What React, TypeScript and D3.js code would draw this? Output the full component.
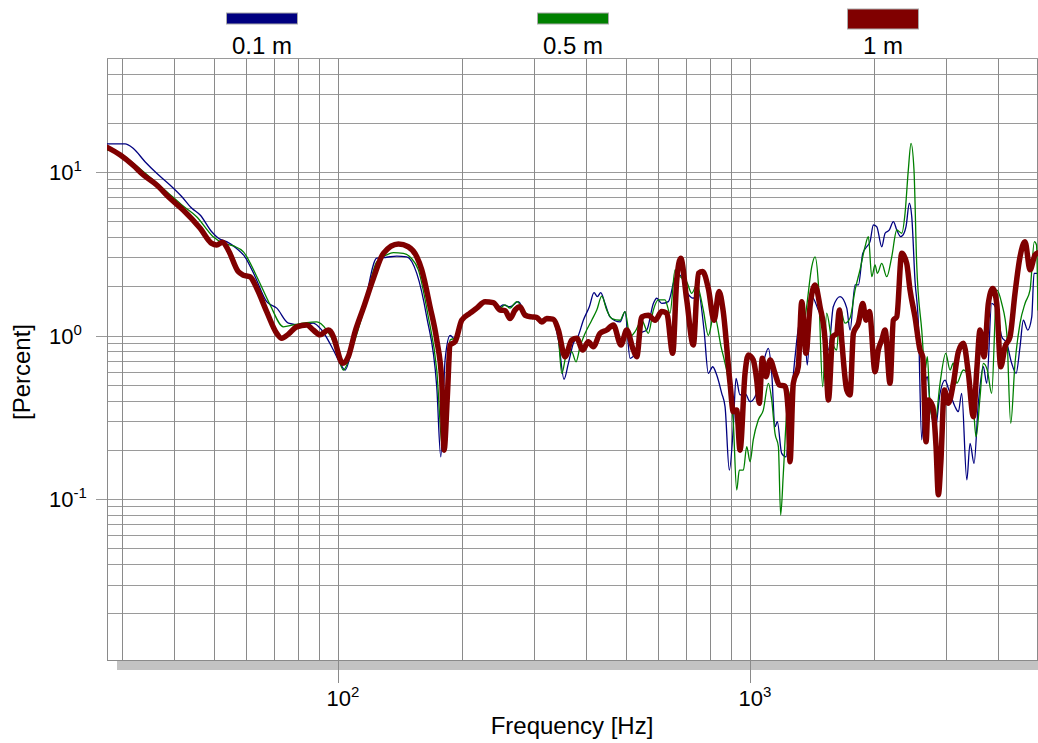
import React from "react";
import * as d3 from "d3";

type Pt = [number, number];

// 0.1 m series: [frequency Hz, percent]
const series01m: Pt[] = [[27.6,14.84],[30.5,14.84],[31.9,13.96],[34.1,11.56],[36.4,9.82],[39.2,8.33],[41.9,7.06],[44.3,6.0],[46.4,5.46],[49.5,4.31],[51.4,3.93],[53.8,3.75],[56.9,3.41],[59.6,3.03],[63.1,2.29],[67.3,1.61],[71.2,1.47],[76.0,1.19],[81.1,1.16],[87.3,1.19],[91.5,1.08],[97.7,0.815],[101.4,0.676],[104.3,0.615],[109.2,0.896],[115.5,1.43],[124.5,2.97],[131.6,3.01],[139.2,3.06],[147.2,3.03],[155.7,2.4],[164.6,1.3],[174.1,0.486],[178.1,0.181],[182.4,0.708],[187.6,1.0],[192.9,0.95],[200.2,1.24],[209.7,1.37],[228,1.61],[238.9,1.59],[248,1.5],[252.2,1.54],[262.2,1.5],[274.6,1.61],[285.2,1.37],[296,1.3],[313,1.24],[333,1.24],[343.6,0.939],[354.6,0.54],[363.3,0.676],[373.6,0.896],[384.2,1.0],[395,1.24],[408.5,1.5],[419.4,1.83],[427.2,1.73],[435.4,1.83],[445.9,1.57],[458.6,1.3],[484.9,1.21],[498.7,1.4],[512.9,0.725],[527.4,0.778],[542.3,1.03],[563,1.08],[584.2,1.57],[595.4,1.69],[612.2,1.57],[635.2,1.61],[659.5,2.24],[678.2,2.34],[704,1.85],[730.4,1.69],[751.1,1.85],[775.5,1.08],[794.3,0.587],[814.1,0.644],[832.5,0.573],[856.1,0.443],[872.1,0.367],[893.2,0.15],[913.4,0.277],[927.2,0.547],[948.2,0.433],[975.2,0.443],[1003,0.394],[1031,0.422],[1060,0.534],[1080,0.676],[1111,0.835],[1132,0.587],[1153,0.277],[1168,0.297],[1197,0.19],[1226,0.181],[1254,0.334],[1290,0.742],[1327,1.24],[1363,1.03],[1381,0.66],[1416,1.73],[1469,1.43],[1525,1.13],[1554,0.815],[1597,1.5],[1659,1.73],[1722,1.47],[1754,1.08],[1804,2.04],[1838,2.04],[1883,3.18],[1925,3.49],[1961,3.75],[1998,4.74],[2036,4.63],[2094,3.49],[2133,4.22],[2185,4.42],[2234,4.97],[2277,4.42],[2328,4.02],[2371,4.22],[2398,4.63],[2443,6.44],[2476,5.33],[2521,2.18],[2569,1.19],[2618,0.23],[2667,0.51],[2702,0.56],[2743,0.385],[2820,0.264],[2900,0.443],[2982,0.534],[3038,0.475],[3154,0.367],[3213,0.342],[3273,0.443],[3368,0.131],[3430,0.219],[3507,0.165],[3592,0.385],[3694,0.644],[3764,0.51],[3870,1.57],[3981,1.43],[4094,0.983],[4211,0.896],[4328,0.676],[4436,0.587],[4535,0.854],[4619,1.24],[4734,1.08],[4842,1.3],[4904,2.4],[5013,2.4]];

// 0.5 m series
const series05m: Pt[] = [[27.6,13.63],[29.7,13.02],[31.9,11.35],[34.1,9.86],[36.4,8.56],[38.5,7.58],[42.2,6.19],[45.5,5.33],[49.9,4.02],[52.7,3.68],[55.9,3.53],[59.1,3.25],[63.7,2.29],[68.6,1.54],[73.9,1.13],[78.1,1.16],[84.2,1.2],[89.0,1.21],[94.1,1.08],[98.6,0.875],[103.3,0.615],[109.2,0.875],[115.5,1.39],[124.5,2.82],[131.6,3.11],[136.6,3.21],[144.5,3.18],[150.8,2.98],[157.1,2.52],[165.8,1.33],[174.1,0.615],[180.0,0.199],[184.4,0.534],[187.6,0.939],[192.9,0.965],[200.2,1.24],[209.7,1.37],[228,1.61],[238.9,1.59],[248,1.47],[255,1.54],[262.2,1.47],[272.3,1.61],[285.2,1.39],[296,1.3],[313,1.24],[333,1.24],[343.6,0.965],[350.2,0.587],[360.1,0.778],[370.2,0.793],[379.2,0.691],[387.8,0.854],[398.8,1.03],[414,1.24],[425.8,1.43],[437.9,1.74],[450.2,1.43],[463,1.27],[484.9,1.24],[498.7,1.4],[512.9,0.983],[527.4,1.055],[547.4,1.24],[568.1,1.03],[584.2,1.43],[600.6,1.65],[623.6,1.65],[641.2,1.37],[659.5,2.52],[678.2,2.29],[704,2.13],[723.9,1.81],[744.5,2.04],[772.4,1.43],[794.3,1.0],[820,1.35],[852.8,0.854],[888.1,0.534],[913.4,0.29],[930.8,0.1135],[944.5,0.15],[966,0.15],[984.5,0.209],[1003,0.169],[1021,0.23],[1050,0.304],[1080,0.35],[1111,0.51],[1132,0.403],[1153,0.252],[1175,0.209],[1190,0.0798],[1208,0.1436],[1231,0.334],[1266,0.486],[1302,0.587],[1339,0.939],[1376,1.5],[1416,2.64],[1442,3.03],[1469,2.09],[1505,0.486],[1539,1.37],[1583,0.939],[1628,0.815],[1659,1.47],[1705,1.19],[1754,1.28],[1804,1.9],[1854,2.52],[1907,3.49],[1943,4.02],[1980,2.29],[2017,2.7],[2043,2.4],[2094,2.76],[2153,2.29],[2214,3.03],[2277,4.42],[2341,4.22],[2385,5.59],[2429,10.3],[2466,14.98],[2507,10.3],[2545,2.76],[2618,1.08],[2667,0.615],[2702,0.742],[2743,0.367],[2820,0.29],[2900,0.51],[2994,0.778],[3067,0.615],[3124,0.679],[3184,0.51],[3304,0.615],[3398,0.565],[3494,0.367],[3547,0.24],[3627,0.422],[3694,0.676],[3777,0.615],[3870,0.443],[3981,1.9],[4094,1.57],[4211,1.03],[4305,0.29],[4409,0.676],[4535,1.19],[4663,1.57],[4796,1.9],[4913,3.75],[4972,3.58],[5013,1.43]];

// 1 m series
const series1m: Pt[] = [[27.6,14.16],[29.7,12.7],[31.9,11.0],[33.8,9.59],[36.4,8.33],[39.2,6.9],[42.2,5.86],[46.4,4.53],[49.5,3.66],[50.9,3.58],[52.6,3.72],[54.3,3.33],[57.4,2.46],[59.1,2.34],[61.3,2.29],[63.7,1.94],[67.3,1.4],[71.2,1.03],[73.2,0.961],[76.0,1.02],[79.6,1.13],[84.2,1.16],[87.3,1.08],[90.7,1.01],[95.0,1.08],[97.7,0.983],[98.6,0.917],[102.9,0.676],[106.2,0.742],[110.3,1.055],[115.5,1.47],[122.2,2.24],[129.2,3.18],[140.5,3.63],[148.5,3.49],[155.7,3.03],[160.1,2.52],[167.7,1.5],[174.1,0.939],[179.0,0.534],[181.4,0.199],[184.7,0.422],[187.6,0.875],[192.9,0.917],[200.2,1.24],[209.7,1.37],[217.7,1.47],[228.0,1.61],[238.9,1.59],[248.0,1.43],[255.0,1.42],[262.2,1.27],[269.6,1.43],[277.3,1.5],[285.2,1.33],[296.0,1.3],[304.4,1.29],[313.0,1.21],[321.9,1.27],[333.0,1.26],[343.6,1.08],[356.7,0.742],[370.2,0.939],[380.7,0.961],[393.6,0.815],[406.1,0.917],[417.7,0.854],[433.6,1.03],[450.2,1.08],[467.1,1.16],[487.6,0.875],[503.4,1.08],[522.4,0.815],[532.4,0.742],[547.4,1.3],[568.1,1.33],[589.7,1.24],[612.2,1.4],[629.5,1.37],[651.0,0.778],[665.7,2.18],[680.8,2.97],[704.0,1.65],[730.4,0.875],[751.1,2.4],[769.8,2.46],[794.3,1.94],[820.0,1.24],[843.4,1.86],[862.4,1.43],[896.7,0.51],[913.4,0.342],[930.8,0.35],[948.2,0.199],[975.2,0.587],[993.3,0.76],[1021,0.708],[1041,0.534],[1056,0.385],[1074,0.725],[1096,0.56],[1122,0.708],[1153,0.587],[1181,0.498],[1219,0.491],[1242,0.334],[1254,0.169],[1277,0.51],[1313,0.644],[1339,1.61],[1371,0.778],[1402,1.5],[1442,2.04],[1483,1.5],[1525,0.939],[1554,0.403],[1592,0.983],[1628,1.03],[1652,1.43],[1674,0.939],[1722,0.464],[1754,0.433],[1787,1.03],[1838,1.19],[1883,1.57],[1918,1.24],[1954,1.4],[2017,0.601],[2054,0.815],[2094,0.939],[2133,1.08],[2193,0.51],[2234,1.24],[2277,1.3],[2341,3.18],[2407,2.76],[2452,1.9],[2521,1.3],[2593,0.815],[2633,0.742],[2682,0.224],[2716,0.403],[2784,0.367],[2836,0.209],[2873,0.106],[2912,0.165],[2971,0.464],[3038,0.385],[3124,0.51],[3213,0.796],[3304,0.896],[3398,0.587],[3494,0.319],[3561,0.615],[3627,1.08],[3709,0.742],[3799,1.57],[3894,1.94],[3981,1.57],[4071,0.644],[4170,0.854],[4288,0.983],[4409,1.81],[4535,3.03],[4663,3.75],[4796,2.52],[4932,3.11],[5013,3.2]];

const seriesNames = ["0.1 m", "0.5 m", "1 m"];
const seriesColors = ["#000080", "#008000", "#800000"];
const seriesWidths = [1.3, 1.3, 5.5];
const seriesData = [series01m, series05m, series1m];
const legendCenters = [262, 573, 883];
const xMajorTicks = [100, 1000];
const xMajorExp = ["2", "3"];
const yMajorTicks = [10, 1, 0.1];
const yMajorExp = ["1", "0", "-1"];

const FONT = "'Liberation Sans', Arial, Helvetica, sans-serif";

export default function App() {
  const W = 1038, H = 743;
  const L = 107, R = 1038, T = 58, B = 660;
  const x = d3.scaleLog().domain([27.57, 5014]).range([L, R]);
  const y = d3.scaleLog().domain([0.01036, 49.8]).range([B, T]);
  const xt = x.ticks().filter((t) => t > 27.6 && t < 5014);
  const yt = y.ticks().filter((t) => t > 0.0104 && t < 49.8);
  const line = d3
    .line<Pt>()
    .x((d) => x(d[0]))
    .y((d) => y(d[1]))
    .curve(d3.curveMonotoneX);

  return (
    <svg
      width={W}
      height={H}
      style={{ position: "absolute", left: 0, top: 0, background: "#fff" }}
      fontFamily={FONT}
    >
      <defs>
        <clipPath id="plotclip">
          <rect x={L} y={T} width={R - L} height={B - T} />
        </clipPath>
      </defs>
      <rect x={0} y={0} width={W} height={H} fill="#fff" />
      {yt.map((t, i) => (
        <line key={"hy" + i} x1={L} x2={R} y1={Math.round(y(t)) + 0.5} y2={Math.round(y(t)) + 0.5} stroke="#9a9a9a" strokeWidth={1} />
      ))}
      {xt.map((t, i) => (
        <line key={"vx" + i} x1={Math.round(x(t)) + 0.5} x2={Math.round(x(t)) + 0.5} y1={T} y2={B} stroke="#8a8a8a" strokeWidth={1} />
      ))}
      <line x1={L + 0.5} x2={L + 0.5} y1={T} y2={B} stroke="#8a8a8a" />
      <line x1={L} x2={R} y1={T + 0.5} y2={T + 0.5} stroke="#9a9a9a" />
      <line x1={L} x2={R} y1={B + 0.5} y2={B + 0.5} stroke="#8a8a8a" />
      <rect x={117} y={661} width={R - 117} height={9} fill="#c3c3c3" />
      {yMajorTicks.map((t, i) => (
        <g key={"ym" + i}>
          <line x1={96} x2={L} y1={Math.round(y(t)) + 0.5} y2={Math.round(y(t)) + 0.5} stroke="#9a9a9a" />
          <text x={49} y={y(t) + 8} fontSize={22} fill="#000">
            10<tspan dy={-9} fontSize={15}>{yMajorExp[i]}</tspan>
          </text>
        </g>
      ))}
      {xMajorTicks.map((t, i) => (
        <g key={"xm" + i}>
          <line x1={Math.round(x(t)) + 0.5} x2={Math.round(x(t)) + 0.5} y1={B} y2={683} stroke="#8a8a8a" />
          <text x={x(t) - 11} y={706} fontSize={22} fill="#000">
            10<tspan dy={-9} fontSize={15}>{xMajorExp[i]}</tspan>
          </text>
        </g>
      ))}
      <text x={572} y={734} fontSize={24} textAnchor="middle" fill="#000">
        Frequency [Hz]
      </text>
      <text transform={`translate(30,372) rotate(-90)`} fontSize={24} textAnchor="middle" fill="#000">
        [Percent]
      </text>
      <g clipPath="url(#plotclip)">
        {seriesData.map((s, i) => (
          <path key={"s" + i} d={line(s) || ""} fill="none" stroke={seriesColors[i]} strokeWidth={seriesWidths[i]} strokeLinejoin="round" strokeLinecap="round" />
        ))}
      </g>
      {seriesNames.map((n, i) => {
        const h = i === 2 ? 20 : 11;
        const yTop = i === 2 ? 9 : 13;
        return (
          <g key={"lg" + i}>
            <rect x={legendCenters[i] - 35.5} y={yTop} width={71} height={h} fill={seriesColors[i]} stroke="#aaa" strokeWidth={1} />
            <text x={legendCenters[i]} y={54} fontSize={24} textAnchor="middle" fill="#000">
              {n}
            </text>
          </g>
        );
      })}
    </svg>
  );
}
